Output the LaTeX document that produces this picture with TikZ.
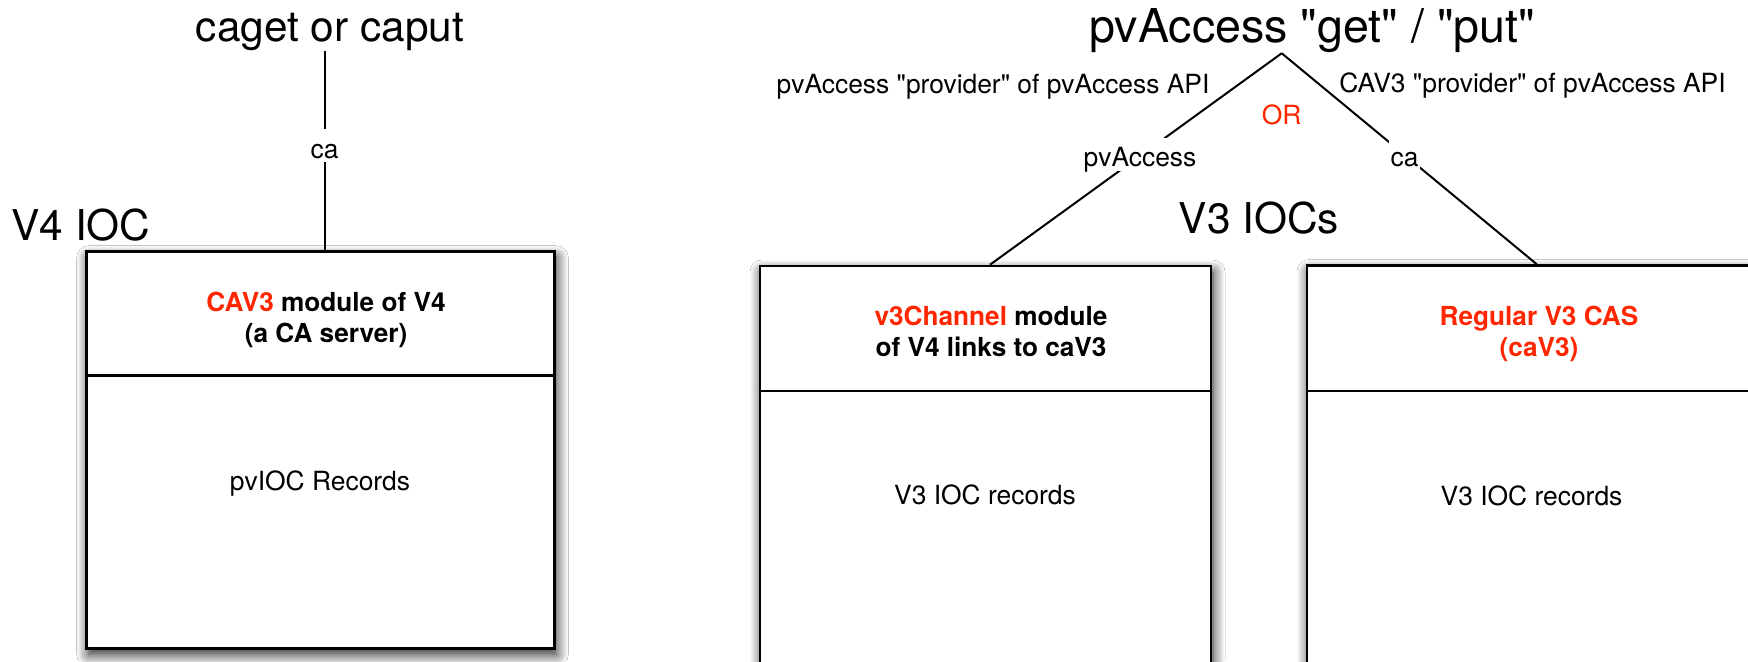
\documentclass[tikz,border=0pt]{standalone}
\usepackage{fontspec}
\setmainfont{TeX Gyre Heros}[Ligatures=TeXOff]
\usetikzlibrary{shadows.blur}
\definecolor{ogred}{RGB}{255,38,0}
\tikzset{
  lbl/.style={font=\fontsize{13.2}{15}\selectfont, inner sep=0pt},
  big/.style={font=\fontsize{21.2}{25}\selectfont, inner sep=0pt},
  hdr/.style={font=\fontsize{13.1}{15}\selectfont\bfseries, inner sep=0pt},
  iocbox/.style={draw, line width=1.3pt, fill=white, inner sep=0pt,
    blur shadow={shadow xshift=1pt, shadow yshift=-3pt, shadow blur radius=6pt,
                 shadow blur extra rounding=0pt, shadow blur steps=12, shadow opacity=90}},
  boxline/.style={line width=1.3pt},
  conn/.style={line width=1pt},
  gaplbl/.style={lbl, fill=white, text height=14pt, text depth=1.5pt, inner ysep=0.6pt, inner xsep=1pt}
}
\begin{document}
\begin{tikzpicture}[x=0.5pt,y=-0.5pt]
\clip (0,0) rectangle (1748,661);
\fill[white] (0,0) rectangle (1748,661);

% ---------- left: V4 IOC ----------
\node[big, anchor=base] (caget) at (330,41.7) {caget or caput};
\node[big, anchor=base west] (v4ioc) at (11,240) {V4 IOC};
\node[iocbox, minimum width=233.8pt, minimum height=198.3pt] (lbox) at (320.5,450) {};
\draw[boxline] (lbox.west |- 0,375.7) -- (lbox.east |- 0,375.7);
\node[hdr, anchor=base] (lh1) at (326,311) {\textcolor{ogred}{CAV3} module of V4};
\node[hdr, anchor=base] (lh2) at (326,342.7) {(a CA server)};
\node[lbl, anchor=base] (lrec) at (320,490) {pvIOC Records};

\path ([xshift=-2.75pt]caget.south) coordinate (cagetfoot);
\draw[conn] (cagetfoot) -- (cagetfoot |- lbox.north)
  node[gaplbl, anchor=base] (lca) at (324.5,158) {ca};

% ---------- right: V3 IOCs ----------
\node[font=\fontsize{23.3}{28}\selectfont, inner sep=0pt, anchor=base] (title) at (1312,42.7) {pvAccess "get" / "put"};
\node[lbl, anchor=base] (pvprov) at (993,93) {pvAccess "provider" of pvAccess API};
\node[lbl, anchor=base west] (caprov) at (1339,92) {CAV3 "provider" of pvAccess API};
\node[lbl, anchor=base, text=ogred] (or) at (1281.7,124.3) {OR};
\node[big, anchor=base] (v3iocs) at (1259,233) {V3 IOCs};

\node[iocbox, minimum width=225.5pt, minimum height=227pt] (mbox) at (985.5,493) {};
\draw[boxline] (mbox.west |- 0,391) -- (mbox.east |- 0,391);
\node[hdr, anchor=base] (mh1) at (991,325) {\textcolor{ogred}{v3Channel} module};
\node[hdr, anchor=base] (mh2) at (991,356) {of V4 links to caV3};
\node[lbl, anchor=base] (mrec) at (985,504) {V3 IOC records};

\node[iocbox, minimum width=231.5pt, minimum height=227.25pt] (rbox) at (1538.5,492.75) {};
\draw[boxline] (rbox.west |- 0,391) -- (rbox.east |- 0,391);
\node[hdr, anchor=base, text=ogred] (rh1) at (1539,325) {Regular V3 CAS};
\node[hdr, anchor=base, text=ogred] (rh2) at (1539,356) {(caV3)};
\node[lbl, anchor=base] (rrec) at (1531.5,505) {V3 IOC records};

\coordinate (apex) at ([xshift=-15.15pt]title.south);
\coordinate (mtop) at ([xshift=2.25pt]mbox.north);
\coordinate (rtop) at ([xshift=-0.9pt]rbox.north);
\draw[conn] (apex) -- (mtop)
  node[gaplbl, anchor=base] (pvlbl) at (1140,166.7) {pvAccess};
\draw[conn] (apex) -- (rtop)
  node[gaplbl, anchor=base] (rca) at (1404.5,166.7) {ca};
\end{tikzpicture}
\end{document}
